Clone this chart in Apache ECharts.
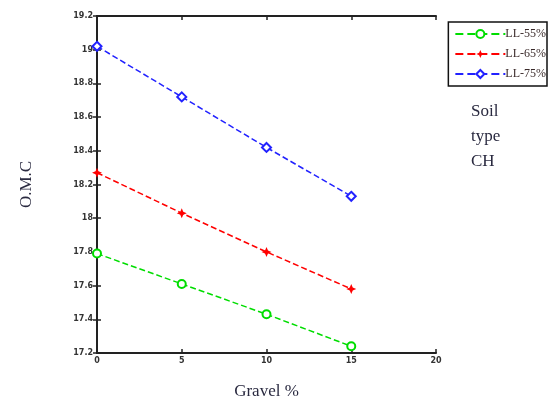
<!DOCTYPE html>
<html><head><meta charset="utf-8">
<script src="https://cdn.jsdelivr.net/npm/echarts@6/dist/echarts.min.js"></script>
<style>html,body{margin:0;padding:0;background:#fff}#c{width:548px;height:405px}</style>
</head><body><div id="c"></div>
<script>
const gravel = [0, 5, 10, 15];
const ll55 = [17.79, 17.61, 17.43, 17.24];
const ll65 = [18.27, 18.03, 17.80, 17.58];
const ll75 = [19.02, 18.72, 18.42, 18.13];
const seriesNames = ['LL-55%', 'LL-65%', 'LL-75%'];
const xTicks = [0, 5, 10, 15, 20];

const chart = echarts.init(document.getElementById('c'));
const tickLabel = {fontSize: 8, fontWeight: 'bold', color: '#333', fontFamily: 'DejaVu Sans'};
const axisLine = {show: true, lineStyle: {color: '#222', width: 2}};
const tick = {show: true, inside: true, length: 4, lineStyle: {color: '#222', width: 1.5}};
const star = 'path://M0,-10 L3,-3 L10,0 L3,3 L0,10 L-3,3 L-10,0 L-3,-3 Z';
function mk(x, y) { return x.map((v, i) => [v, y[i]]); }
chart.setOption({
  animation: false,
  grid: {left: 97, right: 112, top: 16, bottom: 47},
  legend: {
    right: 1, top: 22, orient: 'vertical', itemGap: 8, itemWidth: 50, itemHeight: 10,
    borderColor: '#111', borderWidth: 1.5, padding: [6, 1, 6, 6],
    textStyle: {fontSize: 12, color: '#3a2a2a', fontFamily: 'Liberation Serif', padding: [0, 0, 0, -5]},
    data: seriesNames
  },
  xAxis: [{
    type: 'value', min: 0, max: 20, interval: 5,
    axisLine: axisLine, axisTick: tick, splitLine: {show: false},
    axisLabel: Object.assign({margin: 4, formatter: v => xTicks.includes(v) ? String(v) : ''}, tickLabel),
    name: 'Gravel %', nameLocation: 'middle', nameGap: 30,
    nameTextStyle: {fontFamily: 'Liberation Serif', fontSize: 17, color: '#2a2a40'}
  }, {
    type: 'value', min: 0, max: 20, interval: 5, position: 'top',
    axisLine: axisLine, axisTick: tick, axisLabel: {show: false}, splitLine: {show: false}
  }],
  yAxis: [{
    type: 'value', min: 17.2, max: 19.2, interval: 0.2,
    axisLine: axisLine, axisTick: tick, splitLine: {show: false},
    axisLabel: Object.assign({margin: 4, formatter: v => String(+v.toFixed(1))}, tickLabel),
    name: 'O.M.C', nameLocation: 'middle', nameGap: 62, nameRotate: 90,
    nameTextStyle: {fontFamily: 'Liberation Serif', fontSize: 17, color: '#2a2a40'}
  }, {
    type: 'value', min: 17.2, max: 19.2, interval: 0.2, position: 'right',
    axisLine: axisLine, axisTick: tick, axisLabel: {show: false}, splitLine: {show: false}
  }],
  graphic: [{
    type: 'text', left: 471, top: 99,
    style: {text: 'Soil\ntype\nCH', font: '17px "Liberation Serif"', fill: '#2a2a40', align: 'center', lineHeight: 25}
  }],
  series: [
    {name: seriesNames[0], type: 'line', data: mk(gravel, ll55), symbol: 'emptyCircle', symbolSize: 8,
     color: '#00dd00', lineStyle: {type: 'dashed', width: 1.5, color: '#00dd00'}, itemStyle: {color: '#00dd00', borderWidth: 1.5}},
    {name: seriesNames[1], type: 'line', data: mk(gravel, ll65), symbol: star, symbolSize: 10,
     color: '#ff0000', lineStyle: {type: 'dashed', width: 1.5, color: '#ff0000'}, itemStyle: {color: '#ff0000'}},
    {name: seriesNames[2], type: 'line', data: mk(gravel, ll75), symbol: 'emptyDiamond', symbolSize: 9,
     color: '#2222ff', lineStyle: {type: 'dashed', width: 1.5, color: '#2222ff'}, itemStyle: {color: '#2222ff', borderWidth: 1.5}}
  ]
});
</script></body></html>
